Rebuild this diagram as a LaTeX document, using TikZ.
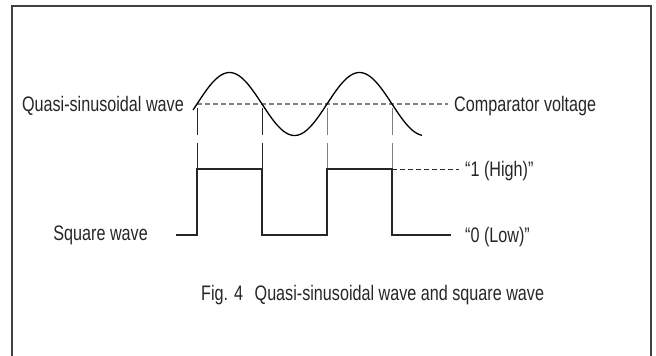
\documentclass[tikz,border=0pt]{standalone}
\usepackage{fontspec}
\setmainfont{Liberation Sans}[FakeStretch=0.77]
\begin{document}
\begin{tikzpicture}[x=1pt, y=-1pt, font=\fontsize{21}{25}\selectfont,
  wavetext/.style={text=black!85, inner sep=0pt},
  frame/.style={draw=black!75, line width=2pt},
  sinwave/.style={draw=black, line width=1.3pt},
  sqwave/.style={draw=black!85, line width=1.8pt},
  compline/.style={draw=black!50, line width=1.3pt, dash pattern=on 5pt off 3pt},
  levelline/.style={draw=black!85, line width=1pt, dash pattern=on 5pt off 3pt},
  edgeline/.style={draw=black!85, line width=1pt, dash pattern=on 27pt off 8pt}]
  \useasboundingbox (0,0) rectangle (656,356);
  \draw[frame] (12,360) -- (12,6) -- (651,6) -- (651,360);

  \node (sinlabel) [wavetext, anchor=base east] at (184,111.5) {Quasi-sinusoidal wave};
  \node (complabel) [wavetext, anchor=base west] at (454,111.5) {Comparator voltage};
  \node (highlabel) [wavetext, anchor=base west] at (465,176.5) {“1 (High)”};
  \node (lowlabel) [wavetext, anchor=base west] at (465,242.5) {“0 (Low)”};
  \node (sqlabel) [wavetext, anchor=base east] at (148,240) {Square wave};
  \node (caption) [wavetext, anchor=base west] at (201,300) {Fig. 4\hspace{0.55em}Quasi-sinusoidal wave and square wave};

  \coordinate (e1) at (197,104);
  \coordinate (e2) at (262,104);
  \coordinate (e3) at (327,104);
  \coordinate (e4) at (392,104);
  \coordinate (h1) at (197,169);
  \coordinate (h2) at (262,169);
  \coordinate (h3) at (327,169);
  \coordinate (h4) at (392,169);
  \coordinate (l1) at (197,235);
  \coordinate (l2) at (262,235);
  \coordinate (l3) at (327,235);
  \coordinate (l4) at (392,235);
  \coordinate (sqstart) at (176,235);
  \coordinate (lowend) at (451,235);
  \coordinate (highend) at (459,169);
  \coordinate (compend) at (448,104);

  \draw[compline] (e1) -- (compend);
  \draw[edgeline] ([yshift=-4pt]e1) -- (h1);
  \draw[edgeline] ([yshift=-4pt]e2) -- (h2);
  \draw[edgeline, draw=black!50] ([yshift=-4pt]e3) -- (h3);
  \draw[edgeline, draw=black!50] ([yshift=-4pt]e4) -- (h4);
  \draw[levelline] (h4) -- (highend);
  \draw[sinwave] plot[domain=193:422, samples=120, smooth] (\x, {104-31.5*sin((\x-197)*2.76923)});
  \draw[sqwave] (sqstart) -- (l1) -- (h1) -- (h2) -- (l2) -- (l3) -- (h3) -- (h4) -- (l4) -- (lowend);
\end{tikzpicture}
\end{document}
